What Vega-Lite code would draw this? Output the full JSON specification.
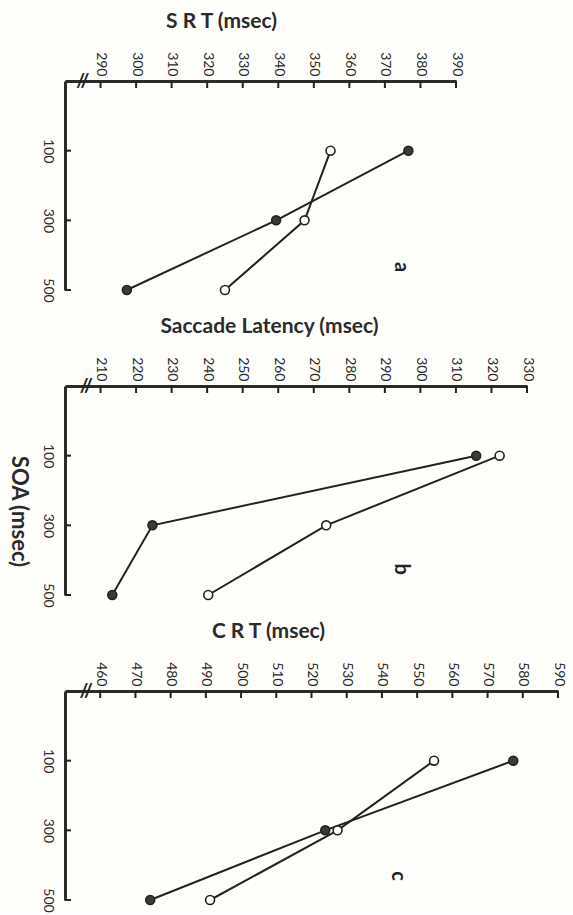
{
  "$schema": "https://vega.github.io/schema/vega-lite/v6.json",
  "background": "#fefefb",
  "padding": {"left": 7, "top": 10, "right": 8, "bottom": 0},
  "datasets": {
    "rt": [
      {"panel": "a", "series": "filled", "soa": 100, "value": 376.6},
      {"panel": "a", "series": "filled", "soa": 300, "value": 339.4},
      {"panel": "a", "series": "filled", "soa": 500, "value": 297.4},
      {"panel": "a", "series": "open", "soa": 100, "value": 354.7},
      {"panel": "a", "series": "open", "soa": 300, "value": 347.4},
      {"panel": "a", "series": "open", "soa": 500, "value": 325.0},
      {"panel": "b", "series": "filled", "soa": 100, "value": 315.7},
      {"panel": "b", "series": "filled", "soa": 300, "value": 224.6},
      {"panel": "b", "series": "filled", "soa": 500, "value": 213.3},
      {"panel": "b", "series": "open", "soa": 100, "value": 322.3},
      {"panel": "b", "series": "open", "soa": 300, "value": 273.5},
      {"panel": "b", "series": "open", "soa": 500, "value": 240.3},
      {"panel": "c", "series": "filled", "soa": 100, "value": 577.3},
      {"panel": "c", "series": "filled", "soa": 300, "value": 523.9},
      {"panel": "c", "series": "filled", "soa": 500, "value": 474.2},
      {"panel": "c", "series": "open", "soa": 100, "value": 554.8},
      {"panel": "c", "series": "open", "soa": 300, "value": 527.4},
      {"panel": "c", "series": "open", "soa": 500, "value": 491.2}
    ],
    "notes": [
      {"panel": "a", "kind": "letter", "label": "a", "soa": 434, "value": 374.5},
      {"panel": "b", "kind": "letter", "label": "b", "soa": 426, "value": 294.5},
      {"panel": "c", "kind": "letter", "label": "c", "soa": 431, "value": 544.5},
      {"panel": "a", "kind": "break", "label": "//", "soa": -100, "value": 285},
      {"panel": "b", "kind": "break", "label": "//", "soa": -100, "value": 206},
      {"panel": "c", "kind": "break", "label": "//", "soa": -100, "value": 456},
      {"panel": "a", "kind": "xtick", "label": "", "value": 290, "soa": -100}, {"panel": "a", "kind": "xtick", "label": "", "value": 300, "soa": -100},
      {"panel": "a", "kind": "xtick", "label": "", "value": 310, "soa": -100}, {"panel": "a", "kind": "xtick", "label": "", "value": 320, "soa": -100},
      {"panel": "a", "kind": "xtick", "label": "", "value": 330, "soa": -100}, {"panel": "a", "kind": "xtick", "label": "", "value": 340, "soa": -100},
      {"panel": "a", "kind": "xtick", "label": "", "value": 350, "soa": -100}, {"panel": "a", "kind": "xtick", "label": "", "value": 360, "soa": -100},
      {"panel": "a", "kind": "xtick", "label": "", "value": 370, "soa": -100}, {"panel": "a", "kind": "xtick", "label": "", "value": 380, "soa": -100},
      {"panel": "a", "kind": "xtick", "label": "", "value": 390, "soa": -100},
      {"panel": "b", "kind": "xtick", "label": "", "value": 210, "soa": -100}, {"panel": "b", "kind": "xtick", "label": "", "value": 220, "soa": -100},
      {"panel": "b", "kind": "xtick", "label": "", "value": 230, "soa": -100}, {"panel": "b", "kind": "xtick", "label": "", "value": 240, "soa": -100},
      {"panel": "b", "kind": "xtick", "label": "", "value": 250, "soa": -100}, {"panel": "b", "kind": "xtick", "label": "", "value": 260, "soa": -100},
      {"panel": "b", "kind": "xtick", "label": "", "value": 270, "soa": -100}, {"panel": "b", "kind": "xtick", "label": "", "value": 280, "soa": -100},
      {"panel": "b", "kind": "xtick", "label": "", "value": 290, "soa": -100}, {"panel": "b", "kind": "xtick", "label": "", "value": 300, "soa": -100},
      {"panel": "b", "kind": "xtick", "label": "", "value": 310, "soa": -100}, {"panel": "b", "kind": "xtick", "label": "", "value": 320, "soa": -100},
      {"panel": "b", "kind": "xtick", "label": "", "value": 330, "soa": -100},
      {"panel": "c", "kind": "xtick", "label": "", "value": 460, "soa": -100}, {"panel": "c", "kind": "xtick", "label": "", "value": 470, "soa": -100},
      {"panel": "c", "kind": "xtick", "label": "", "value": 480, "soa": -100}, {"panel": "c", "kind": "xtick", "label": "", "value": 490, "soa": -100},
      {"panel": "c", "kind": "xtick", "label": "", "value": 500, "soa": -100}, {"panel": "c", "kind": "xtick", "label": "", "value": 510, "soa": -100},
      {"panel": "c", "kind": "xtick", "label": "", "value": 520, "soa": -100}, {"panel": "c", "kind": "xtick", "label": "", "value": 530, "soa": -100},
      {"panel": "c", "kind": "xtick", "label": "", "value": 540, "soa": -100}, {"panel": "c", "kind": "xtick", "label": "", "value": 550, "soa": -100},
      {"panel": "c", "kind": "xtick", "label": "", "value": 560, "soa": -100}, {"panel": "c", "kind": "xtick", "label": "", "value": 570, "soa": -100},
      {"panel": "c", "kind": "xtick", "label": "", "value": 580, "soa": -100}, {"panel": "c", "kind": "xtick", "label": "", "value": 590, "soa": -100},
      {"panel": "a", "kind": "ytick", "label": "", "soa": 100, "value": 280}, {"panel": "a", "kind": "ytick", "label": "", "soa": 300, "value": 280},
      {"panel": "a", "kind": "ytick", "label": "", "soa": 500, "value": 280},
      {"panel": "b", "kind": "ytick", "label": "", "soa": 100, "value": 200}, {"panel": "b", "kind": "ytick", "label": "", "soa": 300, "value": 200},
      {"panel": "b", "kind": "ytick", "label": "", "soa": 500, "value": 200},
      {"panel": "c", "kind": "ytick", "label": "", "soa": 100, "value": 450}, {"panel": "c", "kind": "ytick", "label": "", "soa": 300, "value": 450},
      {"panel": "c", "kind": "ytick", "label": "", "soa": 500, "value": 450}
    ]
  },
  "vconcat": [
    {
      "width": 391, "height": 209,
      "encoding": {
        "x": {"field": "value", "type": "quantitative", "scale": {"domain": [280, 390], "nice": false, "zero": false},
          "axis": {"orient": "top", "title": "S R T  (msec)", "values": [290, 300, 310, 320, 330, 340, 350, 360, 370, 380, 390], "titleX": 156}},
        "y": {"field": "soa", "type": "quantitative", "scale": {"domain": [-100, 500], "reverse": true, "nice": false, "zero": false},
          "axis": {"values": [100, 300, 500], "title": null}}
      },
      "layer": [
        {"data": {"name": "rt"}, "transform": [{"filter": "datum.panel === 'a'"}],
         "mark": {"type": "line", "color": "#222", "strokeWidth": 2}, "encoding": {"detail": {"field": "series"}}},
        {"data": {"name": "rt"}, "transform": [{"filter": "datum.panel === 'a'"}],
         "mark": {"type": "point", "filled": true, "size": 80, "opacity": 1, "stroke": "#222", "strokeWidth": 1.6},
         "encoding": {"fill": {"field": "series", "type": "nominal", "scale": {"domain": ["filled", "open"], "range": ["#3a3a3a", "#ffffff"]}, "legend": null}}},
        {"data": {"name": "notes"}, "transform": [{"filter": "datum.panel === 'a' && datum.kind === 'letter'"}],
         "mark": {"type": "text", "angle": 90, "fontSize": 20, "fontWeight": "bold", "color": "#222"},
         "encoding": {"text": {"field": "label"}}},
        {"data": {"name": "notes"}, "transform": [{"filter": "datum.panel === 'a' && datum.kind === 'break'"}],
         "mark": {"type": "text", "fontSize": 19, "fontWeight": "bold", "color": "#222"},
         "encoding": {"text": {"field": "label"}}},
        {"data": {"name": "notes"}, "transform": [{"filter": "datum.panel === 'a' && datum.kind === 'xtick'"}],
         "mark": {"type": "tick", "orient": "vertical", "size": 7, "thickness": 2, "yOffset": 3.5, "color": "#222", "opacity": 1}},
        {"data": {"name": "notes"}, "transform": [{"filter": "datum.panel === 'a' && datum.kind === 'ytick'"}],
         "mark": {"type": "tick", "orient": "horizontal", "size": 6, "thickness": 2, "xOffset": 3, "color": "#222", "opacity": 1}}
      ]
    },
    {
      "width": 462, "height": 209,
      "encoding": {
        "x": {"field": "value", "type": "quantitative", "scale": {"domain": [200, 330], "nice": false, "zero": false},
          "axis": {"orient": "top", "title": "Saccade Latency (msec)", "values": [210, 220, 230, 240, 250, 260, 270, 280, 290, 300, 310, 320, 330], "titleX": 204}},
        "y": {"field": "soa", "type": "quantitative", "scale": {"domain": [-100, 500], "reverse": true, "nice": false, "zero": false},
          "axis": {"values": [100, 300, 500], "title": "SOA (msec)", "titleAngle": 90, "titleX": -47, "titleY": 125, "titleAlign": "center", "titleBaseline": "middle", "titleFontSize": 22}}
      },
      "layer": [
        {"data": {"name": "rt"}, "transform": [{"filter": "datum.panel === 'b'"}],
         "mark": {"type": "line", "color": "#222", "strokeWidth": 2}, "encoding": {"detail": {"field": "series"}}},
        {"data": {"name": "rt"}, "transform": [{"filter": "datum.panel === 'b'"}],
         "mark": {"type": "point", "filled": true, "size": 80, "opacity": 1, "stroke": "#222", "strokeWidth": 1.6},
         "encoding": {"fill": {"field": "series", "type": "nominal", "scale": {"domain": ["filled", "open"], "range": ["#3a3a3a", "#ffffff"]}, "legend": null}}},
        {"data": {"name": "notes"}, "transform": [{"filter": "datum.panel === 'b' && datum.kind === 'letter'"}],
         "mark": {"type": "text", "angle": 90, "fontSize": 20, "fontWeight": "bold", "color": "#222"},
         "encoding": {"text": {"field": "label"}}},
        {"data": {"name": "notes"}, "transform": [{"filter": "datum.panel === 'b' && datum.kind === 'break'"}],
         "mark": {"type": "text", "fontSize": 19, "fontWeight": "bold", "color": "#222"},
         "encoding": {"text": {"field": "label"}}},
        {"data": {"name": "notes"}, "transform": [{"filter": "datum.panel === 'b' && datum.kind === 'xtick'"}],
         "mark": {"type": "tick", "orient": "vertical", "size": 7, "thickness": 2, "yOffset": 3.5, "color": "#222", "opacity": 1}},
        {"data": {"name": "notes"}, "transform": [{"filter": "datum.panel === 'b' && datum.kind === 'ytick'"}],
         "mark": {"type": "tick", "orient": "horizontal", "size": 6, "thickness": 2, "xOffset": 3, "color": "#222", "opacity": 1}}
      ]
    },
    {
      "width": 493, "height": 209,
      "encoding": {
        "x": {"field": "value", "type": "quantitative", "scale": {"domain": [450, 590], "nice": false, "zero": false},
          "axis": {"orient": "top", "title": "C R T  (msec)", "values": [460, 470, 480, 490, 500, 510, 520, 530, 540, 550, 560, 570, 580, 590], "titleX": 203}},
        "y": {"field": "soa", "type": "quantitative", "scale": {"domain": [-100, 500], "reverse": true, "nice": false, "zero": false},
          "axis": {"values": [100, 300, 500], "title": null}}
      },
      "layer": [
        {"data": {"name": "rt"}, "transform": [{"filter": "datum.panel === 'c'"}],
         "mark": {"type": "line", "color": "#222", "strokeWidth": 2}, "encoding": {"detail": {"field": "series"}}},
        {"data": {"name": "rt"}, "transform": [{"filter": "datum.panel === 'c'"}],
         "mark": {"type": "point", "filled": true, "size": 80, "opacity": 1, "stroke": "#222", "strokeWidth": 1.6},
         "encoding": {"fill": {"field": "series", "type": "nominal", "scale": {"domain": ["filled", "open"], "range": ["#3a3a3a", "#ffffff"]}, "legend": null}}},
        {"data": {"name": "notes"}, "transform": [{"filter": "datum.panel === 'c' && datum.kind === 'letter'"}],
         "mark": {"type": "text", "angle": 90, "fontSize": 20, "fontWeight": "bold", "color": "#222"},
         "encoding": {"text": {"field": "label"}}},
        {"data": {"name": "notes"}, "transform": [{"filter": "datum.panel === 'c' && datum.kind === 'break'"}],
         "mark": {"type": "text", "fontSize": 19, "fontWeight": "bold", "color": "#222"},
         "encoding": {"text": {"field": "label"}}},
        {"data": {"name": "notes"}, "transform": [{"filter": "datum.panel === 'c' && datum.kind === 'xtick'"}],
         "mark": {"type": "tick", "orient": "vertical", "size": 7, "thickness": 2, "yOffset": 3.5, "color": "#222", "opacity": 1}},
        {"data": {"name": "notes"}, "transform": [{"filter": "datum.panel === 'c' && datum.kind === 'ytick'"}],
         "mark": {"type": "tick", "orient": "horizontal", "size": 6, "thickness": 2, "xOffset": 3, "color": "#222", "opacity": 1}}
      ]
    }
  ],
  "spacing": 96,
  "bounds": "flush",
  "resolve": {"scale": {"x": "independent", "y": "independent", "fill": "shared"}},
  "config": {
    "font": "Lato",
    "view": {"stroke": null},
    "axis": {"grid": false, "ticks": false, "domainWidth": 3, "domainColor": "#2b2b2b",
      "labelFont": "Lato", "labelFontSize": 14, "labelColor": "#2b2b2b", "labelOverlap": false, "labelFlush": false,
      "titleFont": "Lato", "titleFontSize": 21, "titleFontWeight": "bold", "titleColor": "#2b2b2b"},
    "axisX": {"labelAngle": 90, "labelAlign": "right", "labelBaseline": "middle", "labelPadding": 5,
      "titleAlign": "center", "titleBaseline": "middle", "titleY": -60, "titleAngle": 0},
    "axisY": {"labelAngle": 90, "labelAlign": "center", "labelBaseline": "middle", "labelPadding": 18}
  }
}
